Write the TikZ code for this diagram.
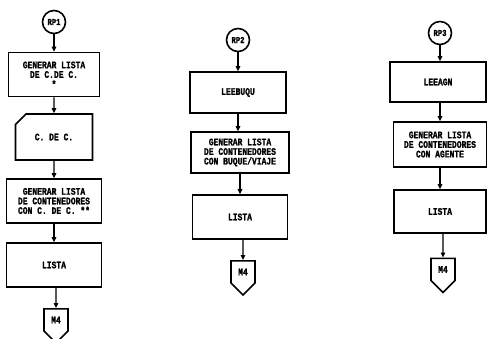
\documentclass[tikz,border=0pt]{standalone}
\usepackage{fontspec}
\newfontfamily\flowfont[FakeStretch=0.8, FakeBold=1.2]{Liberation Mono}
\usepackage{tikz}
\usetikzlibrary{arrows.meta, positioning, shapes.misc, shapes.symbols}

\begin{document}
\begin{tikzpicture}[
  x=1pt, y=-1pt,
  every node/.style={font=\flowfont\bfseries\fontsize{10}{9.6}\selectfont, align=center, inner sep=1pt},
  term/.style={draw, circle, line width=1.6pt, minimum size=23pt, font=\flowfont\bfseries\fontsize{9}{9}\selectfont},
  box/.style={draw, rectangle, line width=1.6pt, minimum height=44pt},
  card/.style={draw, chamfered rectangle, chamfered rectangle corners=north west,
               chamfered rectangle xsep=7pt, chamfered rectangle ysep=7pt, line width=1.6pt,
               minimum width=77pt, minimum height=46pt, inner sep=0pt},
  page/.style={draw, signal, signal to=south, signal from=nowhere, signal pointer angle=90,
               line width=1.6pt, minimum width=24pt, minimum height=27pt, inner sep=0pt},
  arr/.style={-{Triangle[length=5pt, width=4.5pt]}, line width=1.2pt},
]
  \useasboundingbox (0,0) rectangle (487,339);

  \node[term]                      (rp1)  at (54, 22)    {RP1};
  \node[box, minimum width=91pt]   (gen1) at (54, 74.5)  {GENERAR LISTA\\DE C.DE C.\\*};
  \node[card]                      (cdc)  at (54, 137)   {C. DE C.};
  \node[box, minimum width=95pt]   (gen2) at (54, 201)   {GENERAR LISTA\\DE CONTENEDORES\\CON C. DE C. **};
  \node[box, minimum width=95pt]   (lst1) at (54, 265)   {LISTA};
  \node[page]                      (m4a)  at (56, 320)   {M4};

  \node[term]                      (rp2)  at (238, 40)   {RP2};
  \node[box, minimum width=96pt, minimum height=41pt] (buq)  at (238, 92.5)  {LEEBUQU};
  \node[box, minimum width=98pt, minimum height=41pt] (gen3) at (240, 152.5) {GENERAR LISTA\\DE CONTENEDORES\\CON BUQUE/VIAJE};
  \node[box, minimum width=95pt]   (lst2) at (240, 217)  {LISTA};
  \node[page]                      (m4b)  at (243, 272)  {M4};

  \node[term]                      (rp3)  at (440, 33)   {RP3};
  \node[box, minimum width=96pt, minimum height=40pt] (agn)  at (438, 82)    {LEEAGN};
  \node[box, minimum width=93pt, minimum height=45pt] (gen4) at (440, 144.5) {GENERAR LISTA\\DE CONTENEDORES\\CON AGENTE};
  \node[box, minimum width=92pt, minimum height=43pt] (lst3) at (440, 211.5) {LISTA};
  \node[page]                      (m4c)  at (443, 269.5) {M4};

  \draw[arr] (rp1) -- (gen1);
  \draw[arr] (gen1) -- (cdc);
  \draw[arr] (cdc) -- (gen2);
  \draw[arr] (gen2) -- (lst1);
  \draw[arr] (lst1.south -| m4a) -- (m4a);

  \draw[arr] (rp2) -- (rp2 |- buq.north);
  \draw[arr] (buq.south -| rp2) -- (rp2 |- gen3.north);
  \draw[arr] (gen3) -- (lst2);
  \draw[arr] (lst2.south -| m4b) -- (m4b);

  \draw[arr] (rp3) -- (rp3 |- agn.north);
  \draw[arr] (agn.south -| rp3) -- (gen4);
  \draw[arr] (gen4) -- (lst3);
  \draw[arr] (lst3.south -| m4c) -- (m4c);
\end{tikzpicture}
\end{document}
